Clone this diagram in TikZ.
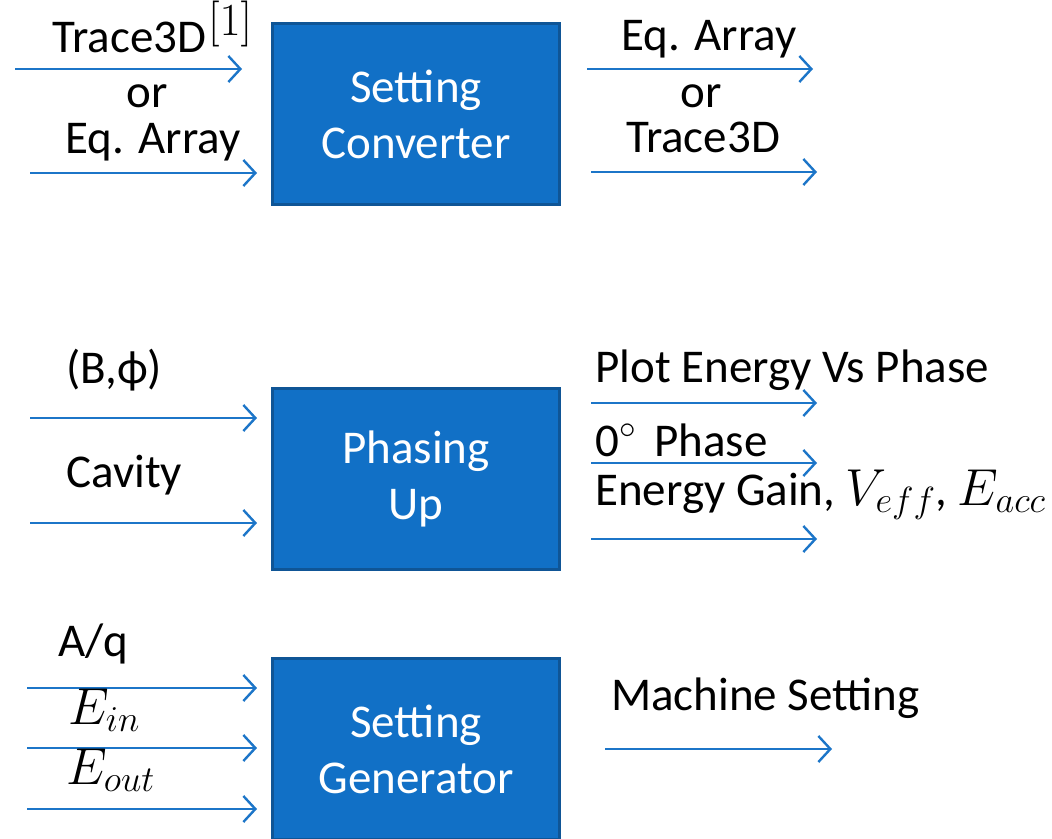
\documentclass[tikz,border=0pt]{standalone}
\usepackage{fix-cm}
\usepackage{fontspec}
\setmainfont{Carlito}
\usetikzlibrary{arrows.meta}
\definecolor{boxfill}{HTML}{1170C6}
\definecolor{boxline}{HTML}{0F5596}
\definecolor{arrowblue}{HTML}{1C75C8}
\newcommand{\lgmath}[1]{{\fontsize{52}{56}\selectfont$#1$}}
\begin{document}
\begin{tikzpicture}[x=1pt,y=-1pt,
  block/.style={draw=boxline,line width=3.5pt,fill=boxfill,minimum width=287pt,minimum height=181pt,
     text=white,align=center,font=\fontsize{47}{56}\selectfont,inner sep=0pt},
  lbl/.style={anchor=base west,inner sep=0pt,font=\fontsize{47}{56}\selectfont},
  lblc/.style={anchor=base,inner sep=0pt,font=\fontsize{47}{56}\selectfont},
  flow/.style={draw=arrowblue,line width=2.4pt,-{Straight Barb[length=12pt,width=26pt,line width=2.4pt]}}]
\useasboundingbox (0,0) rectangle (1052,838);
\begin{scope}
\clip (0,0) rectangle (1052,838);
% boxes
\node[block] (conv) at (416,114) {Setting\\Converter};
\node[block] (phase) at (416,479) {Phasing\\Up};
\node[block] (gen) at (416,749) {Setting\\Generator};
\end{scope}
% box 1 arrows
\coordinate (c1a) at (15,69);  \coordinate (c1b) at (242,69);
\coordinate (c2a) at (30,173); \coordinate (c2b) at (257,173);
\coordinate (c3a) at (587,69); \coordinate (c3b) at (813,69);
\coordinate (c4a) at (591,172); \coordinate (c4b) at (817,172);
\draw[flow] (c1a) -- (c1b);
\draw[flow] (c2a) -- (c2b);
\draw[flow] (c3a) -- (c3b);
\draw[flow] (c4a) -- (c4b);
\node[lbl] (t1) at (52,52) {Trace3D};
\node[anchor=base west,inner sep=0pt,font=\fontsize{46}{50}\selectfont] (t1r) at (208,35) {$[1]$};
\node[lblc] (t2) at (147,107) {or};
\node[lblc] (t3) at (153,153) {Eq. Array};
\node[lblc] (t4) at (709,50) {Eq. Array};
\node[lblc] (t5) at (701,107) {or};
\node[lblc] (t6) at (703,152) {Trace3D};
% box 2 arrows
\coordinate (p1a) at (30,418); \coordinate (p1b) at (257,418);
\coordinate (p2a) at (30,523); \coordinate (p2b) at (257,523);
\coordinate (p3a) at (591,403); \coordinate (p3b) at (817,403);
\coordinate (p4a) at (591,463); \coordinate (p4b) at (817,463);
\coordinate (p5a) at (591,539); \coordinate (p5b) at (817,539);
\draw[flow] (p1a) -- (p1b);
\draw[flow] (p2a) -- (p2b);
\draw[flow] (p3a) -- (p3b);
\draw[flow] (p4a) -- (p4b);
\draw[flow] (p5a) -- (p5b);
\node[lbl] (q1) at (66,383) {(B,ϕ)};
\node[lbl] (q2) at (66,487) {Cavity};
\node[lbl] (q3) at (595,382) {Plot Energy Vs Phase};
\node[lbl] (q4) at (595,456) {0$^{\circ}$\, Phase};
\node[lbl] (q5) at (595,505) {Energy Gain, \lgmath{V_{eff}}, \lgmath{E_{acc}}};
% box 3 arrows
\coordinate (g1a) at (27,688); \coordinate (g1b) at (257,688);
\coordinate (g2a) at (27,748); \coordinate (g2b) at (257,748);
\coordinate (g3a) at (27,809); \coordinate (g3b) at (257,809);
\coordinate (g4a) at (605,749); \coordinate (g4b) at (832,749);
\draw[flow] (g1a) -- (g1b);
\draw[flow] (g2a) -- (g2b);
\draw[flow] (g3a) -- (g3b);
\draw[flow] (g4a) -- (g4b);
\node[lbl] (r1) at (58,656) {A/q};
\node[lbl] (r2) at (68,724) {\lgmath{E_{in}}};
\node[lbl] (r3) at (66,784) {\lgmath{E_{out}}};
\node[lbl] (r4) at (611,710) {Machine Setting};
\end{tikzpicture}
\end{document}
